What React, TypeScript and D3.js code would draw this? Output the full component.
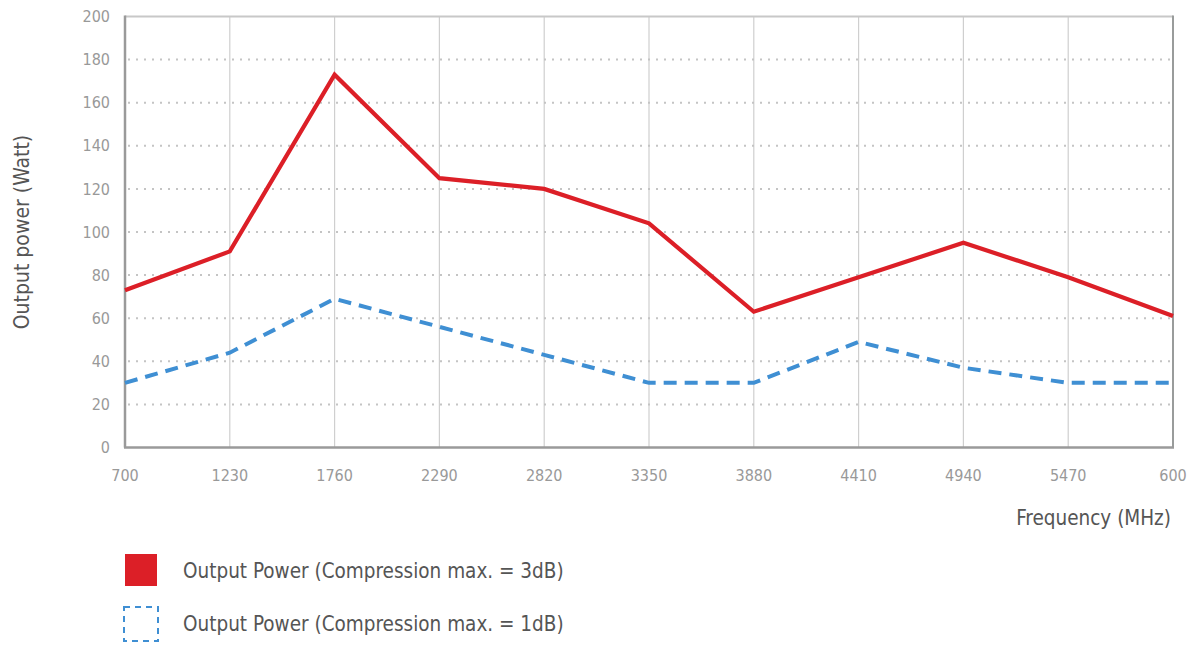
import { useEffect, useRef } from 'react';
import * as d3 from 'd3';

const frequencies = [700, 1230, 1760, 2290, 2820, 3350, 3880, 4410, 4940, 5470, 6000];
const xTickLabels = ['700', '1230', '1760', '2290', '2820', '3350', '3880', '4410', '4940', '5470', '600'];
const power3dB = [73, 91, 173, 125, 120, 104, 63, 79, 95, 79, 61];
const power1dB = [30, 44, 69, 56, 43, 30, 30, 49, 37, 30, 30];
const yTicks = [0, 20, 40, 60, 80, 100, 120, 140, 160, 180, 200];
const legendLabels = ['Output Power (Compression max. = 3dB)', 'Output Power (Compression max. = 1dB)'];

const FONT = '"Liberation Sans Narrow", "DejaVu Sans Condensed", Roboto, sans-serif';
const RED = '#dc1f27';
const BLUE = '#3f8fd3';

const App = () => {
    const svgRef = useRef<SVGSVGElement | null>(null);

    useEffect(() => {
        if (!svgRef.current) return;
        const svg = d3.select(svgRef.current);
        svg.selectAll('*').remove();

        const left = 125;
        const right = 1173;
        const top = 16.5;
        const bottom = 447.5;

        const x = d3.scaleLinear().domain([700, 6000]).range([left, right]);
        const y = d3.scaleLinear().domain([0, 200]).range([bottom, top]);

        // vertical grid
        svg
            .append('g')
            .selectAll('line')
            .data(frequencies.slice(1, -1))
            .join('line')
            .attr('x1', (d) => x(d))
            .attr('x2', (d) => x(d))
            .attr('y1', top)
            .attr('y2', bottom)
            .attr('stroke', '#cfcfcf')
            .attr('stroke-width', 1.2);

        // horizontal dotted grid
        svg
            .append('g')
            .selectAll('line')
            .data(yTicks.slice(1, -1))
            .join('line')
            .attr('x1', left + 3)
            .attr('x2', right)
            .attr('y1', (d) => y(d))
            .attr('y2', (d) => y(d))
            .attr('stroke', '#c4c4c4')
            .attr('stroke-width', 2)
            .attr('stroke-dasharray', '2,6');

        // frame
        svg.append('line').attr('x1', left).attr('x2', right).attr('y1', top).attr('y2', top)
            .attr('stroke', '#c8c8c8').attr('stroke-width', 2);
        svg.append('line').attr('x1', right).attr('x2', right).attr('y1', top - 1).attr('y2', bottom)
            .attr('stroke', '#999c9b').attr('stroke-width', 2);
        svg.append('line').attr('x1', left).attr('x2', left).attr('y1', top - 1).attr('y2', bottom)
            .attr('stroke', '#9a9a9a').attr('stroke-width', 2.5);
        svg.append('line').attr('x1', left - 1).attr('x2', right + 1).attr('y1', bottom).attr('y2', bottom)
            .attr('stroke', '#9a9a9a').attr('stroke-width', 2.5);

        // y tick labels
        svg
            .append('g')
            .selectAll('text')
            .data(yTicks)
            .join('text')
            .attr('x', 110)
            .attr('y', (d) => y(d))
            .attr('dy', '0.35em')
            .attr('text-anchor', 'end')
            .attr('font-family', FONT)
            .attr('font-size', 16)
            .attr('fill', '#999')
            .text((d) => d);

        // x tick labels
        svg
            .append('g')
            .selectAll('text')
            .data(frequencies)
            .join('text')
            .attr('x', (d) => x(d))
            .attr('y', 475)
            .attr('dy', '0.35em')
            .attr('text-anchor', 'middle')
            .attr('font-family', FONT)
            .attr('font-size', 16)
            .attr('fill', '#999')
            .text((_, i) => xTickLabels[i]);

        // axis titles
        svg.append('text')
            .attr('x', 1171)
            .attr('y', 518)
            .attr('dy', '0.35em')
            .attr('text-anchor', 'end')
            .attr('font-family', FONT)
            .attr('font-size', 20.5)
            .attr('fill', '#555')
            .text('Frequency (MHz)');

        svg.append('text')
            .attr('transform', 'translate(22,232) rotate(-90)')
            .attr('dy', '0.35em')
            .attr('text-anchor', 'middle')
            .attr('font-family', FONT)
            .attr('font-size', 21)
            .attr('fill', '#555')
            .text('Output power (Watt)');

        const line = d3
            .line<number>()
            .x((_, i) => x(frequencies[i]))
            .y((d) => y(d));

        svg.append('path')
            .datum(power1dB)
            .attr('fill', 'none')
            .attr('stroke', BLUE)
            .attr('stroke-width', 4)
            .attr('stroke-dasharray', '13,8')
            .attr('d', line);

        svg.append('path')
            .datum(power3dB)
            .attr('fill', 'none')
            .attr('stroke', RED)
            .attr('stroke-width', 4.2)
            .attr('d', line);

        // legend
        const legend = svg.append('g');
        legend.append('rect')
            .attr('x', 125).attr('y', 554).attr('width', 32).attr('height', 32)
            .attr('fill', RED);
        legend.append('rect')
            .attr('x', 124).attr('y', 607).attr('width', 34).attr('height', 34)
            .attr('fill', 'none')
            .attr('stroke', BLUE)
            .attr('stroke-width', 2)
            .attr('stroke-dasharray', '6,5');
        legend
            .selectAll('text')
            .data(legendLabels)
            .join('text')
            .attr('x', 183)
            .attr('y', (_, i) => 571 + i * 53)
            .attr('dy', '0.35em')
            .attr('font-family', FONT)
            .attr('font-size', 20.5)
            .attr('fill', '#555')
            .text((d) => d);
    }, []);

    return (
        <svg
            ref={svgRef}
            width={1194}
            height={648}
            style={{ position: 'absolute', left: 0, top: 0, background: '#fff' }}
        />
    );
};

export default App;
